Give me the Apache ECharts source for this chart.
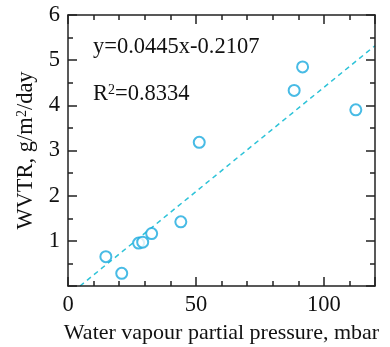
<!DOCTYPE html>
<html><head><meta charset="utf-8">
<script src="https://cdn.jsdelivr.net/npm/echarts@6/dist/echarts.min.js"></script>
<style>html,body{margin:0;padding:0;background:#fff}#c{width:390px;height:347px}</style>
</head><body><div id="c"></div>
<script>
const waterVapour = [14.8, 21.0, 27.6, 29.2, 32.7, 44.1, 51.3, 88.4, 91.7, 112.5];
const wvtr = [0.65, 0.28, 0.95, 0.97, 1.16, 1.42, 3.18, 4.33, 4.85, 3.90];
const trendX = [4.7, 120];
const trendY = [0, 5.32];
const equationText = 'y=0.0445x-0.2107';
const r2Value = '0.8334';

const font = '"Liberation Serif", "Times New Roman", serif';
const fs = 22.5;
const ink = '#222';
const pts = waterVapour.map((x, i) => [x, wvtr[i]]);
const trend = trendX.map((x, i) => [x, trendY[i]]);

function mk(extra, n) {
  return Object.assign({
    type: 'value',
    z: 10,
    axisLine: { show: true, onZero: false, lineStyle: { color: ink, width: 1.5 } },
    axisTick: { show: true, inside: true, length: 9, lineStyle: { color: ink, width: 1.5 } },
    minorTick: { show: true, splitNumber: n, length: 5, lineStyle: { color: ink, width: 1.5 } },
    splitLine: { show: false }
  }, extra);
}
const labelStyle = (size) => ({ color: '#111', fontFamily: font, fontSize: size || fs });

const chart = echarts.init(document.getElementById('c'), null, { renderer: 'canvas' });
chart.setOption({
  animation: false,
  grid: { left: 68, right: 15, top: 15, bottom: 61, outerBoundsMode: 'none' },
  xAxis: [
    mk({ min: 0, max: 120, interval: 50,
      axisLabel: Object.assign({ margin: 8, showMaxLabel: false }, labelStyle()),
      name: 'Water vapour partial pressure, mbar', nameLocation: 'middle', nameGap: 35,
      nameTextStyle: labelStyle(22) }, 5),
    mk({ position: 'top', min: 0, max: 120, interval: 50, axisLabel: { show: false } }, 5)
  ],
  yAxis: [
    mk({ min: 0, max: 6, interval: 1,
      axisLabel: Object.assign({ margin: 8, showMinLabel: false }, labelStyle()),
      name: '{a|WVTR, g/m}{s|2}{a|/day}', nameLocation: 'middle', nameGap: 29, nameRotate: 90,
      nameTextStyle: Object.assign({
        rich: { a: { fontFamily: font, fontSize: fs, color: '#111' },
                s: { fontFamily: font, fontSize: 14, color: '#111', verticalAlign: 'top' } } }, labelStyle()) }, 2),
    mk({ position: 'right', min: 0, max: 6, interval: 1, axisLabel: { show: false } }, 2)
  ],
  graphic: [
    { type: 'text', left: 93, top: 36, z: 0, style: { text: equationText, font: fs + 'px ' + font, fill: '#111' } },
    { type: 'text', left: 93, top: 83, z: 0, style: {
      text: '{a|R}{s|2}{a|=' + r2Value + '}',
      rich: { a: { fontFamily: font, fontSize: fs, fill: '#111' },
              s: { fontFamily: font, fontSize: 14, fill: '#111', verticalAlign: 'top' } } } }
  ],
  series: [
    { type: 'line', data: trend, showSymbol: false, symbol: 'none', silent: true,
      lineStyle: { color: '#2ec3d8', width: 1.5, type: [5, 4] }, z: 2 },
    { type: 'scatter', data: pts, symbol: 'emptyCircle', symbolSize: 11,
      itemStyle: { color: '#1aaadf', borderColor: '#1aaadf', borderWidth: 1.7 }, z: 3 }
  ]
});
</script></body></html>
